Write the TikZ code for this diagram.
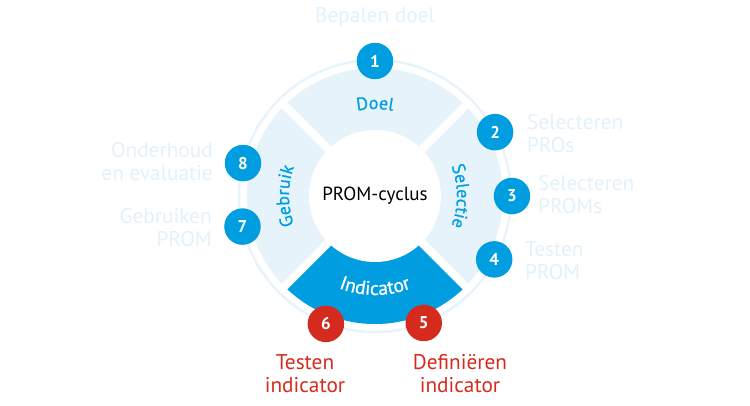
\documentclass[tikz,border=0pt]{standalone}
\usepackage{fontspec}
\setmainfont{PT Sans}
\newfontfamily\segfont[FakeBold=0.8]{PT Sans}
\usetikzlibrary{decorations.text}
\definecolor{pblue}{RGB}{0,158,224}
\definecolor{plight}{RGB}{230,243,251}
\definecolor{pring}{RGB}{232,244,252}
\definecolor{pred}{RGB}{213,43,30}
\definecolor{plabel}{RGB}{226,241,251}
\begin{document}
\begin{tikzpicture}[x=1pt,y=1pt,
  badge/.style={circle, fill=pblue, minimum size=36.5pt, inner sep=0pt, text=white,
    font=\fontsize{17}{17}\selectfont\bfseries},
  redbadge/.style={badge, fill=pred},
  lbl/.style={text=plabel, font=\fontsize{21.3}{23}\selectfont, inner sep=0pt},
  redlbl/.style={text=pred, font=\fontsize{21.3}{23}\selectfont, inner sep=0pt, align=center},
  gap/.style={white, line width=8pt}]
\useasboundingbox (-375,-209) rectangle (375,196);
% outer thin ring
\draw[pring, line width=2.5pt] (0,0) circle[radius=136];
% segments
\fill[plight] (0,0) circle[radius=128];
\fill[pblue] (0,0) -- (225:128) arc[start angle=225, end angle=315, radius=128] -- cycle;
\foreach \a in {45,135,225,315} \draw[gap] (0,0) -- (\a:131);
\fill[white] (0,0) circle[radius=66];
% center
\node[font=\fontsize{19}{19}\selectfont] (c) at (0,0) {PROM-cyclus};
% segment texts
\path[decorate, decoration={text along path, text align=center,
  text={|\segfont\fontsize{18}{18}\selectfont\color{pblue}|Doel}}]
  (130:87) arc[start angle=130, end angle=50, radius=87];
\path[decorate, decoration={text along path, text align=center,
  text={|\segfont\fontsize{18}{18}\selectfont\color{pblue}|Selectie}}]
  (40:82) arc[start angle=40, end angle=-40, radius=82];
\path[decorate, decoration={text along path, text align=center,
  text={|\segfont\fontsize{19.5}{19.5}\selectfont\color{white}|Indicator}}]
  (225:99) arc[start angle=225, end angle=315, radius=99];
\path[decorate, decoration={text along path, text align=center,
  text={|\segfont\fontsize{18}{18}\selectfont\color{pblue}|Gebruik}}]
  (220:86) arc[start angle=220, end angle=140, radius=86];
% badges
\node[badge] (b1) at (90:135) {1};
\node[badge] (b2) at (28:136) {2};
\node[badge] (b3) at (0:137) {3};
\node[badge] (b4) at (-28:135) {4};
\node[redbadge] (b5) at (-69:136) {5};
\node[redbadge] (b6) at (-111:137) {6};
\node[badge] (b7) at (193:136) {7};
\node[badge] (b8) at (166:136) {8};
% labels
\node[lbl] (l1) at (0,179) {Bepalen doel};
\node[lbl, anchor=west, align=left] (l2) at (152,62.5) {Selecteren\\PROs};
\node[lbl, anchor=west, align=left] (l3) at (163,1) {Selecteren\\PROMs};
\node[lbl, anchor=west, align=left] (l4) at (150,-65) {Testen\\PROM};
\node[redlbl] (l5) at (85,-177.5) {Definiëren\\indicator};
\node[redlbl] (l6) at (-70,-177.5) {Testen\\indicator};
\node[lbl, anchor=east, align=right] (l7) at (-163,-31.5) {Gebruiken\\PROM};
\node[lbl, anchor=east, align=right] (l8) at (-162,34.5) {Onderhoud\\en evaluatie};
\end{tikzpicture}
\end{document}
